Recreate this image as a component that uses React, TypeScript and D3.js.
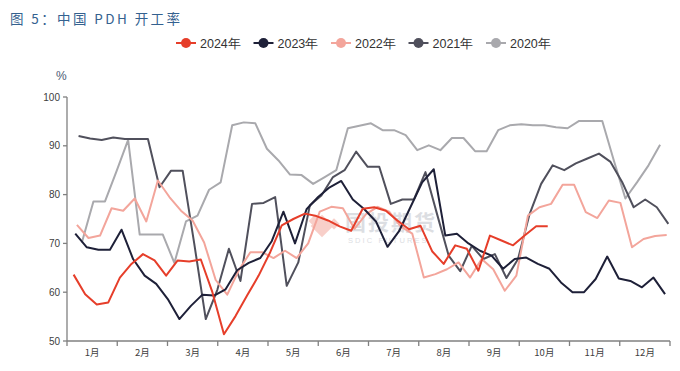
import * as d3 from "d3";

// weekly PDH operating rate (%), one value per Friday
const years = ["2024年", "2023年", "2022年", "2021年", "2020年"];
const firstFriday = ["2024-01-05", "2023-01-06", "2022-01-07", "2021-01-08", "2020-01-10"];
const colors = ["#e63e2a", "#1e2038", "#f3a59b", "#50505c", "#a9a9ad"];

const rate2024 = [63.6, 59.6, 57.5, 57.9, 63.0, 65.8, 67.8, 66.5, 63.4, 66.5, 66.3, 66.7, 60.0, 51.4, 55.1, 59.3, 63.4, 68.2, 73.7, 75.0, 76.1, 75.6, 74.7, 73.5, 72.6, 77.1, 77.4, 76.7, 74.7, 72.9, 73.6, 68.4, 65.8, 69.6, 68.9, 64.4, 71.6, 70.6, 69.6, 71.6, 73.5, 73.5];
const rate2023 = [72.0, 69.2, 68.7, 68.7, 72.8, 66.8, 63.4, 61.7, 58.6, 54.5, 57.2, 59.5, 59.3, 60.6, 64.5, 66.0, 67.0, 70.5, 76.5, 70.0, 77.0, 79.5, 81.5, 82.8, 79.0, 77.0, 74.5, 69.3, 72.5, 77.5, 82.5, 85.2, 71.6, 72.0, 70.0, 68.5, 67.5, 64.8, 66.8, 67.1, 65.8, 64.8, 62.0, 60.0, 60.0, 62.7, 67.3, 62.8, 62.3, 61.0, 63.0, 59.6];
const rate2022 = [73.8, 71.1, 71.6, 77.2, 76.7, 79.2, 74.5, 82.9, 79.5, 76.7, 74.7, 70.2, 62.5, 59.5, 64.5, 68.2, 68.2, 67.0, 68.5, 67.0, 70.0, 76.5, 77.5, 77.2, 73.0, 76.0, 77.5, 76.5, 73.5, 72.0, 63.0, 63.7, 64.7, 66.1, 63.0, 66.8, 64.7, 60.3, 63.4, 75.7, 77.4, 78.1, 82.0, 82.0, 76.4, 75.2, 78.8, 78.3, 69.2, 70.9, 71.5, 71.7];
const rate2021 = [92.0, 91.5, 91.2, 91.7, 91.4, 91.4, 91.4, 81.5, 84.9, 84.9, 70.0, 54.5, 60.5, 68.9, 62.3, 78.1, 78.3, 79.5, 61.3, 66.1, 77.8, 79.8, 83.6, 85.0, 88.8, 85.7, 85.7, 78.1, 79.0, 79.0, 84.6, 76.0, 67.5, 64.3, 69.5, 66.8, 67.8, 62.9, 66.8, 76.0, 82.2, 86.0, 85.0, 86.4, 87.4, 88.4, 86.7, 82.6, 77.4, 79.0, 77.4, 74.0];
const rate2020 = [70.2, 78.6, 78.6, 84.8, 91.2, 71.8, 71.8, 71.8, 66.0, 74.5, 75.7, 81.0, 82.5, 94.2, 94.8, 94.6, 89.4, 87.0, 84.1, 84.0, 82.2, 83.6, 85.0, 93.6, 94.1, 94.6, 93.2, 93.2, 92.2, 89.1, 90.1, 89.1, 91.6, 91.6, 88.9, 88.9, 93.2, 94.2, 94.4, 94.2, 94.2, 93.8, 93.6, 95.1, 95.1, 95.1, 87.0, 79.2, 82.5, 86.0, 90.2];

const months = ["1月", "2月", "3月", "4月", "5月", "6月", "7月", "8月", "9月", "10月", "11月", "12月"];
const yTicks = [50, 60, 70, 80, 90, 100];

const allSeries = [rate2024, rate2023, rate2022, rate2021, rate2020];

export default function App() {
  const width = 680;
  const height = 371;
  const margin = { top: 97, right: 10, bottom: 30, left: 67 };
  const x0 = margin.left;
  const x1 = width - margin.right;
  const yBottom = height - margin.bottom;

  const xMonth = d3.scaleBand().domain(months).range([x0, x1]);
  const xDay = d3.scaleLinear().domain([0, 365]).range([x0, x1]);
  const y = d3.scaleLinear().domain([50, 100]).range([yBottom, margin.top]);

  const parse = d3.timeParse("%Y-%m-%d");
  const series = years.map((name, k) => {
    const start = parse(firstFriday[k])!;
    const startDay = d3.timeDay.count(d3.timeYear(start), start);
    return {
      name,
      color: colors[k],
      points: allSeries[k].map((v, i) => ({ day: startDay + 7 * i, v })),
    };
  });

  const line = d3
    .line<{ day: number; v: number }>()
    .x((d) => xDay(d.day))
    .y((d) => y(d.v));

  const monthEdges = [...months.map((m) => xMonth(m)!), x1];
  const axisColor = "#808080";
  const font = "'Liberation Sans', Arial, sans-serif";
  const cjk = "'Noto Sans CJK SC', sans-serif";

  return (
    <svg
      width={width}
      height={height}
      style={{ position: "absolute", left: 0, top: 0, background: "#fff" }}
    >
      {/* title */}
      <text x={10} y={24} fill="#34618f" style={{ fontFamily: cjk, fontSize: 13.5, letterSpacing: 2.4 }}>
        图 5：中国 PDH 开工率
      </text>

      {/* legend */}
      {series.map((s, i) => {
        const cx = 186 + i * 77.5;
        return (
          <g key={s.name}>
            <line x1={cx - 10} x2={cx + 10} y1={43} y2={43} stroke={s.color} strokeWidth={2} />
            <circle cx={cx} cy={43} r={5} fill={s.color} />
            <text x={cx + 14} y={47.5} fill="#333" style={{ fontFamily: font, fontSize: 12.5 }}>
              {s.name}
            </text>
          </g>
        );
      })}

      {/* unit */}
      <text x={56} y={80} fill="#4a5a74" style={{ fontFamily: font, fontSize: 12 }}>
        %
      </text>

      {/* y axis */}
      <line x1={x0} x2={x0} y1={y(100)} y2={yBottom} stroke={axisColor} strokeWidth={1.3} />
      {yTicks.map((t) => (
        <g key={t}>
          <line x1={x0 - 4} x2={x0} y1={y(t)} y2={y(t)} stroke={axisColor} strokeWidth={1.3} />
          <text
            x={x0 - 7}
            y={y(t) + 3.5}
            textAnchor="end"
            fill="#404040"
            style={{ fontFamily: font, fontSize: 10 }}
          >
            {t}
          </text>
        </g>
      ))}

      {/* x axis */}
      <line x1={x0} x2={x1} y1={yBottom} y2={yBottom} stroke={axisColor} strokeWidth={1.3} />
      {monthEdges.map((ex, i) => (
        <line key={i} x1={ex} x2={ex} y1={yBottom} y2={yBottom + 5} stroke={axisColor} strokeWidth={1.3} />
      ))}
      {months.map((m) => (
        <text
          key={m}
          x={xMonth(m)! + xMonth.bandwidth() / 2}
          y={yBottom + 15}
          textAnchor="middle"
          fill="#404040"
          style={{ fontFamily: cjk, fontSize: 9.5 }}
        >
          {m}
        </text>
      ))}

      {/* watermark */}
      <g opacity={0.4}>
        <g transform="translate(322,226)" fill="#f08a7a">
          <rect x={-8} y={-8} width={16} height={16} transform="rotate(45)" />
          <rect x={-13} y={-3} width={9} height={9} transform="rotate(45)" />
          <rect x={3} y={-14} width={8} height={8} transform="rotate(45)" />
        </g>
        <text x={345} y={230} fill="#a9adb8" style={{ fontFamily: cjk, fontSize: 21, fontWeight: 700, letterSpacing: 2 }}>
          国投期货
        </text>
        <text x={348} y={243} fill="#a9adb8" style={{ fontFamily: font, fontSize: 7.5, letterSpacing: 2.1 }}>
          SDIC FUTURES
        </text>
      </g>

      {/* lines, oldest first so 2024 sits on top */}
      {[...series].reverse().map((s) => (
        <path
          key={s.name}
          d={line(s.points)!}
          fill="none"
          stroke={s.color}
          strokeWidth={2}
          strokeLinejoin="round"
        />
      ))}
    </svg>
  );
}
